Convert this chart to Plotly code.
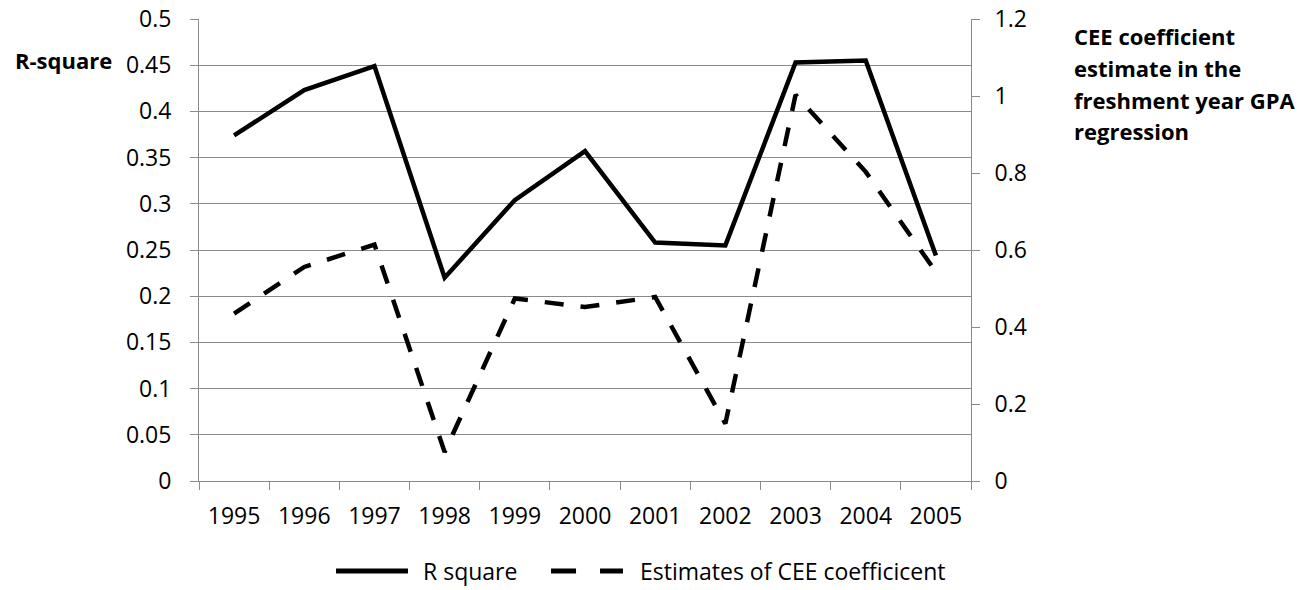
import plotly.graph_objects as go

# Data
years = ["1995", "1996", "1997", "1998", "1999", "2000", "2001", "2002", "2003", "2004", "2005"]
r_square = [0.374, 0.423, 0.449, 0.220, 0.304, 0.357, 0.258, 0.255, 0.453, 0.455, 0.244]
cee_coef = [0.435, 0.556, 0.614, 0.075, 0.474, 0.452, 0.478, 0.149, 1.003, 0.803, 0.543]

left_tickvals = [0, 0.05, 0.1, 0.15, 0.2, 0.25, 0.3, 0.35, 0.4, 0.45, 0.5]
left_ticktext = ["0", "0.05", "0.1", "0.15", "0.2", "0.25", "0.3", "0.35", "0.4", "0.45", "0.5"]
right_tickvals = [0, 0.2, 0.4, 0.6, 0.8, 1.0, 1.2]
right_ticktext = ["0", "0.2", "0.4", "0.6", "0.8", "1", "1.2"]

right_title_lines = ["CEE coefficient", "estimate in the", "freshment year GPA", "regression"]

FONT = "Open Sans"
GRID = "#8a8a8a"
TXT = "#000000"
TICK_SIZE = 23
TITLE_SIZE = 22

fig = go.Figure()
fig.add_trace(go.Scatter(
    x=years, y=r_square, mode="lines", name="R square",
    line=dict(color="black", width=4.5), yaxis="y", showlegend=False,
))
fig.add_trace(go.Scatter(
    x=years, y=cee_coef, mode="lines", name="Estimates of CEE coefficicent",
    line=dict(color="black", width=4.5, dash="19px,17px"), yaxis="y2", showlegend=False,
))

fig.update_layout(
    width=1313, height=590,
    margin=dict(l=199, r=342, t=19, b=109),
    paper_bgcolor="white", plot_bgcolor="white",
    font=dict(family=FONT, size=TICK_SIZE, color=TXT),
    xaxis=dict(
        type="category", categoryorder="array", categoryarray=years,
        range=[-0.5, len(years) - 0.5], automargin=False,
        showgrid=False, showline=True, linecolor=GRID, linewidth=1,
        ticks="outside", tickson="boundaries", ticklen=8, tickcolor=GRID,
        tickfont=dict(family=FONT, size=TICK_SIZE, color=TXT), ticklabelstandoff=14,
    ),
    yaxis=dict(
        range=[0, 0.5], tickvals=left_tickvals, ticktext=left_ticktext, automargin=False,
        showgrid=True, gridcolor=GRID, gridwidth=1, zeroline=False,
        showline=True, linecolor=GRID, linewidth=1,
        ticks="outside", ticklen=8, tickcolor=GRID,
        tickfont=dict(family=FONT, size=TICK_SIZE, color=TXT), ticklabelstandoff=14,
    ),
    yaxis2=dict(
        range=[0, 1.2], tickvals=right_tickvals, ticktext=right_ticktext, automargin=False,
        overlaying="y", side="right", showgrid=False, zeroline=False,
        showline=True, linecolor=GRID, linewidth=1,
        ticks="outside", ticklen=8, tickcolor=GRID,
        tickfont=dict(family=FONT, size=TICK_SIZE, color=TXT), ticklabelstandoff=10,
    ),
)

# Left axis title
fig.add_annotation(
    xref="paper", yref="paper", x=-0.2409, y=0.9118, xanchor="left", yanchor="middle",
    text="<b>R-square</b>", showarrow=False, font=dict(family=FONT, size=TITLE_SIZE, color=TXT),
)
# Right axis title, one line per annotation
for i, line in enumerate(right_title_lines):
    fig.add_annotation(
        xref="paper", yref="paper", x=1.1304, y=0.9623 - i * 0.0686,
        xanchor="left", yanchor="middle", align="left",
        text=f"<b>{line}</b>", showarrow=False,
        font=dict(family=FONT, size=TITLE_SIZE, color=TXT),
    )

# Legend drawn below the plot
leg_y = -0.1949
fig.add_shape(type="line", xref="paper", yref="paper", x0=0.1775, x1=0.2707, y0=leg_y, y1=leg_y,
              line=dict(color="black", width=5))
fig.add_annotation(xref="paper", yref="paper", x=0.2876, y=leg_y, xanchor="left", yanchor="middle",
                   text="R square", showarrow=False, font=dict(family=FONT, size=TICK_SIZE, color=TXT))
fig.add_shape(type="line", xref="paper", yref="paper", x0=0.4560, x1=0.5492, y0=leg_y, y1=leg_y,
              line=dict(color="black", width=5, dash="25px,24px"))
fig.add_annotation(xref="paper", yref="paper", x=0.5687, y=leg_y, xanchor="left", yanchor="middle",
                   text="Estimates of CEE coefficicent", showarrow=False,
                   font=dict(family=FONT, size=TICK_SIZE, color=TXT))

fig.write_html("out.html")
